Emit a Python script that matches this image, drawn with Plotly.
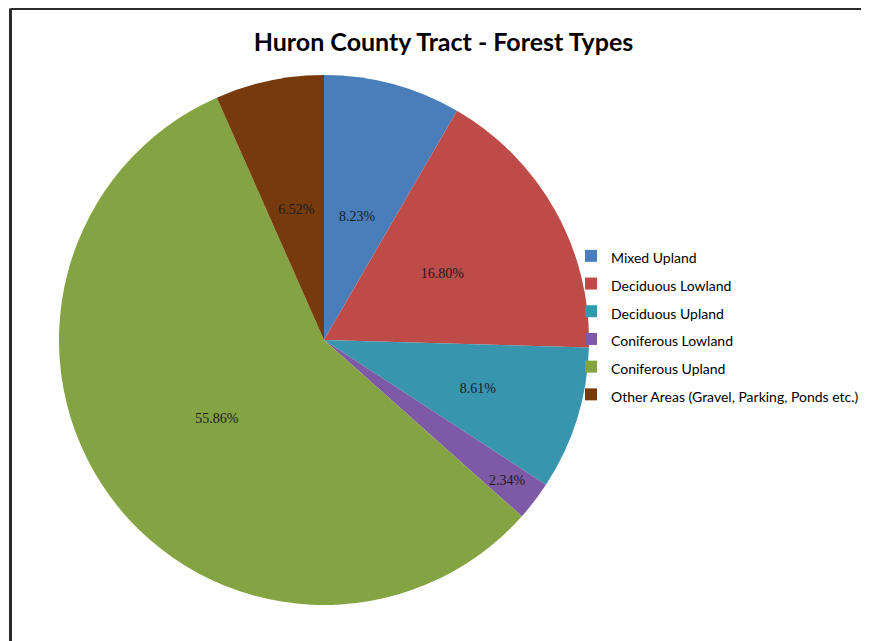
import plotly.graph_objects as go

categories = ["Mixed Upland", "Deciduous Lowland", "Deciduous Upland",
              "Coniferous Lowland", "Coniferous Upland",
              "Other Areas (Gravel, Parking, Ponds etc.)"]
values = [8.23, 16.80, 8.61, 2.34, 55.86, 6.52]
labels_text = ["8.23%", "16.80%", "8.61%", "2.34%", "55.86%", "6.52%"]
colors = ["#4A7EBB", "#BE4B48", "#3795AE", "#7E5AA6", "#84A342", "#773A0C"]

# page body has an 8px margin; figure coords = picture coords - 8
W, H = 861, 633
cx, cy, r = 316, 332, 265


def dom(rad):
    return dict(x=[(cx - rad) / W, (cx + rad) / W],
                y=[(H - cy - rad) / H, (H - cy + rad) / H])


# which label rides on which (transparent) ring, so labels sit like Excel's
label_groups = [
    (r, {"55.86%"}),
    (248, {"2.34%"}),
    (205, {"16.80%", "8.61%"}),
    (161, {"8.23%", "6.52%"}),
]

fig = go.Figure()
for i, (rad, keep) in enumerate(label_groups):
    main = i == 0
    fig.add_trace(go.Pie(
        labels=[f"<span style='font-size:14px'>{c}</span>" for c in categories],
        values=values,
        text=[t if t in keep else "" for t in labels_text],
        textinfo="text",
        textposition="inside",
        insidetextorientation="horizontal",
        textfont=dict(family="Liberation Serif", size=14, color="#1a1a22"),
        marker=dict(colors=colors if main else ["rgba(0,0,0,0)"] * len(values),
                    line=dict(width=0)),
        sort=False,
        direction="clockwise",
        rotation=0,
        showlegend=main,
        hoverinfo="label+percent" if main else "skip",
        domain=dom(rad),
    ))

fig.update_layout(
    width=W, height=H,
    margin=dict(l=0, r=0, t=0, b=0),
    paper_bgcolor="white",
    plot_bgcolor="white",
    uniformtext=dict(minsize=14, mode="show"),
    title=dict(text="<b>Huron County Tract - Forest Types</b>",
               x=435.5 / W, xanchor="center", y=1 - 34 / H, yanchor="middle",
               font=dict(family="Lato", size=25, color="#000000")),
    legend=dict(x=563 / W, y=1 - 229 / H, xanchor="left", yanchor="top",
                font=dict(family="Lato", size=19, color="#000000"),
                bgcolor="rgba(0,0,0,0)", borderwidth=0),
    shapes=[
        dict(type="line", xref="paper", yref="paper",
             x0=2.5 / W, x1=1, y0=1 - 0.5 / H, y1=1 - 0.5 / H,
             line=dict(color="#2b2b2b", width=3)),
        dict(type="line", xref="paper", yref="paper",
             x0=2.5 / W, x1=2.5 / W, y0=1 - 0.5 / H, y1=0,
             line=dict(color="#2b2b2b", width=3)),
    ],
)

fig.write_html("out.html")
